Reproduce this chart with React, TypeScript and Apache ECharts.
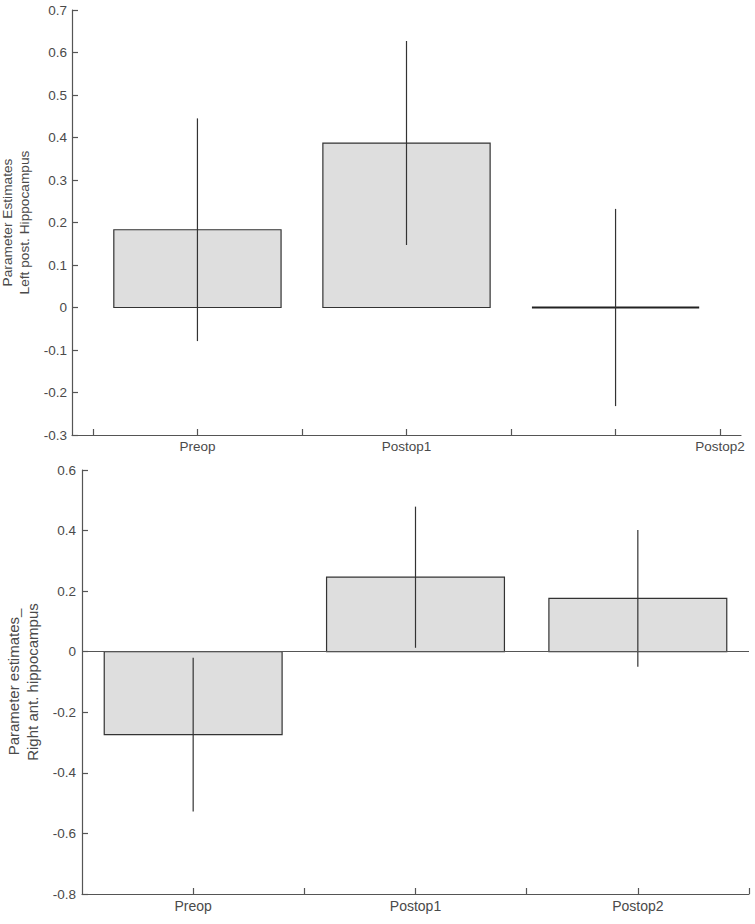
import React, { useEffect, useRef } from "react";
import * as echarts from "echarts";

// ---- Data ----
const categories = ["Preop", "Postop1", "Postop2"];

// Top panel: Left post. Hippocampus
const topPositions = [1, 2, 3];
const topValues = [0.183, 0.387, 0];
const topErrors = [0.262, 0.24, 0.232];
const topTickValues = [0.5, 1, 1.5, 2, 2.5, 3, 3.5];
const topLabelPositions = [1, 2, 3.5];

// Bottom panel: Right ant. hippocampus
const bottomPositions = [1, 2, 3];
const bottomValues = [-0.274, 0.246, 0.176];
const bottomErrors = [0.254, 0.233, 0.226];
const bottomTickValues = [1, 1.5, 2, 2.5, 3, 3.5];
const bottomLabelPositions = [1, 2, 3];

const TEXT = "#4a4a4a";
const AXIS = "#555555";
const FONT = "Liberation Sans, Arial, sans-serif";
const BAR_FILL = "#dedede";
const BAR_STROKE = "#333333";

const renderBar = (params: any, api: any) => {
  const x = api.value(0);
  const v = api.value(1);
  const e = api.value(2);
  const halfW = 0.4;
  const p0 = api.coord([x - halfW, 0]);
  const p1 = api.coord([x + halfW, v]);
  const top = api.coord([x, v + e]);
  const bot = api.coord([x, v - e]);
  const h = Math.abs(p1[1] - p0[1]);
  const children: any[] = [];
  if (h >= 1) {
    children.push({
      type: "rect",
      shape: { x: p0[0], y: Math.min(p0[1], p1[1]), width: p1[0] - p0[0], height: h },
      style: { fill: BAR_FILL, stroke: BAR_STROKE, lineWidth: 1.2 },
    });
  } else {
    children.push({
      type: "line",
      shape: { x1: p0[0], y1: p0[1], x2: p1[0], y2: p0[1] },
      style: { stroke: "#222", lineWidth: 2 },
    });
  }
  children.push({
    type: "line",
    shape: { x1: top[0], y1: top[1], x2: bot[0], y2: bot[1] },
    style: { stroke: BAR_STROKE, lineWidth: 1.2 },
  });
  return { type: "group", children };
};

const labelFormatter = (positions: number[]) => (val: number) => {
  const i = positions.findIndex((p) => Math.abs(p - val) < 1e-6);
  return i >= 0 ? categories[i] : "";
};

export default function App() {
  const ref = useRef<HTMLDivElement>(null);

  useEffect(() => {
    if (!ref.current) return;
    const chart = echarts.init(ref.current, undefined, { renderer: "svg" });

    const topData = topPositions.map((p, i) => [p, topValues[i], topErrors[i]]);
    const bottomData = bottomPositions.map((p, i) => [p, bottomValues[i], bottomErrors[i]]);

    const baseX = (gridIndex: number, min: number, max: number, ticks: number[], labels: number[], fontSize: number, margin: number) => ({
      type: "value",
      gridIndex,
      min,
      max,
      axisLine: { show: true, onZero: false, lineStyle: { color: AXIS, width: 1.2 } },
      axisTick: { show: true, inside: true, length: 6, customValues: ticks, lineStyle: { color: AXIS, width: 1.2 } },
      axisLabel: {
        show: true,
        customValues: labels,
        formatter: labelFormatter(labels),
        color: TEXT,
        fontSize,
        fontFamily: FONT,
        margin,
      },
      splitLine: { show: false },
    });

    const baseY = (gridIndex: number, min: number, max: number, interval: number, name: string, nameSize: number, nameLineHeight: number, nameGap: number, labelSize: number, labelMargin: number) => ({
      type: "value",
      gridIndex,
      min,
      max,
      interval,
      name,
      nameLocation: "middle",
      nameGap,
      nameRotate: 90,
      nameTextStyle: { color: TEXT, fontSize: nameSize, fontFamily: FONT, lineHeight: nameLineHeight },
      axisLine: { show: true, lineStyle: { color: AXIS, width: 1.2 } },
      axisTick: { show: true, inside: true, length: 6, lineStyle: { color: AXIS, width: 1.2 } },
      axisLabel: { color: TEXT, fontSize: labelSize, fontFamily: FONT, margin: labelMargin },
      splitLine: { show: false },
    });

    chart.setOption({
      animation: false,
      backgroundColor: "#ffffff",
      grid: [
        { left: 72, top: 10, right: 14, bottom: 489, containLabel: false, outerBoundsMode: "none" },
        { left: 82, top: 470, right: 6, bottom: 30, containLabel: false, outerBoundsMode: "none" },
      ],
      xAxis: [
        baseX(0, 0.4, 3.6, topTickValues, topLabelPositions, 13.5, 4),
        baseX(1, 0.5, 3.5, bottomTickValues, bottomLabelPositions, 14, 5),
      ],
      yAxis: [
        baseY(0, -0.3, 0.7, 0.1, "Parameter Estimates\nLeft post. Hippocampus", 13.7, 17, 38, 13.5, 5),
        baseY(1, -0.8, 0.6, 0.2, "Parameter estimates_\nRight ant. hippocampus", 15, 19, 40, 13.5, 6),
      ],
      series: [
        {
          type: "custom",
          xAxisIndex: 0,
          yAxisIndex: 0,
          renderItem: renderBar,
          data: topData,
          silent: true,
        },
        {
          type: "custom",
          xAxisIndex: 1,
          yAxisIndex: 1,
          renderItem: renderBar,
          data: bottomData,
          silent: true,
          markLine: {
            silent: true,
            symbol: "none",
            label: { show: false },
            lineStyle: { color: AXIS, type: "solid", width: 1.2 },
            data: [{ yAxis: 0 }],
          },
        },
      ],
    });

    return () => chart.dispose();
  }, []);

  return (
    <div
      ref={ref}
      style={{ position: "absolute", left: 0, top: 0, width: 755, height: 924, background: "#fff" }}
    />
  );
}
